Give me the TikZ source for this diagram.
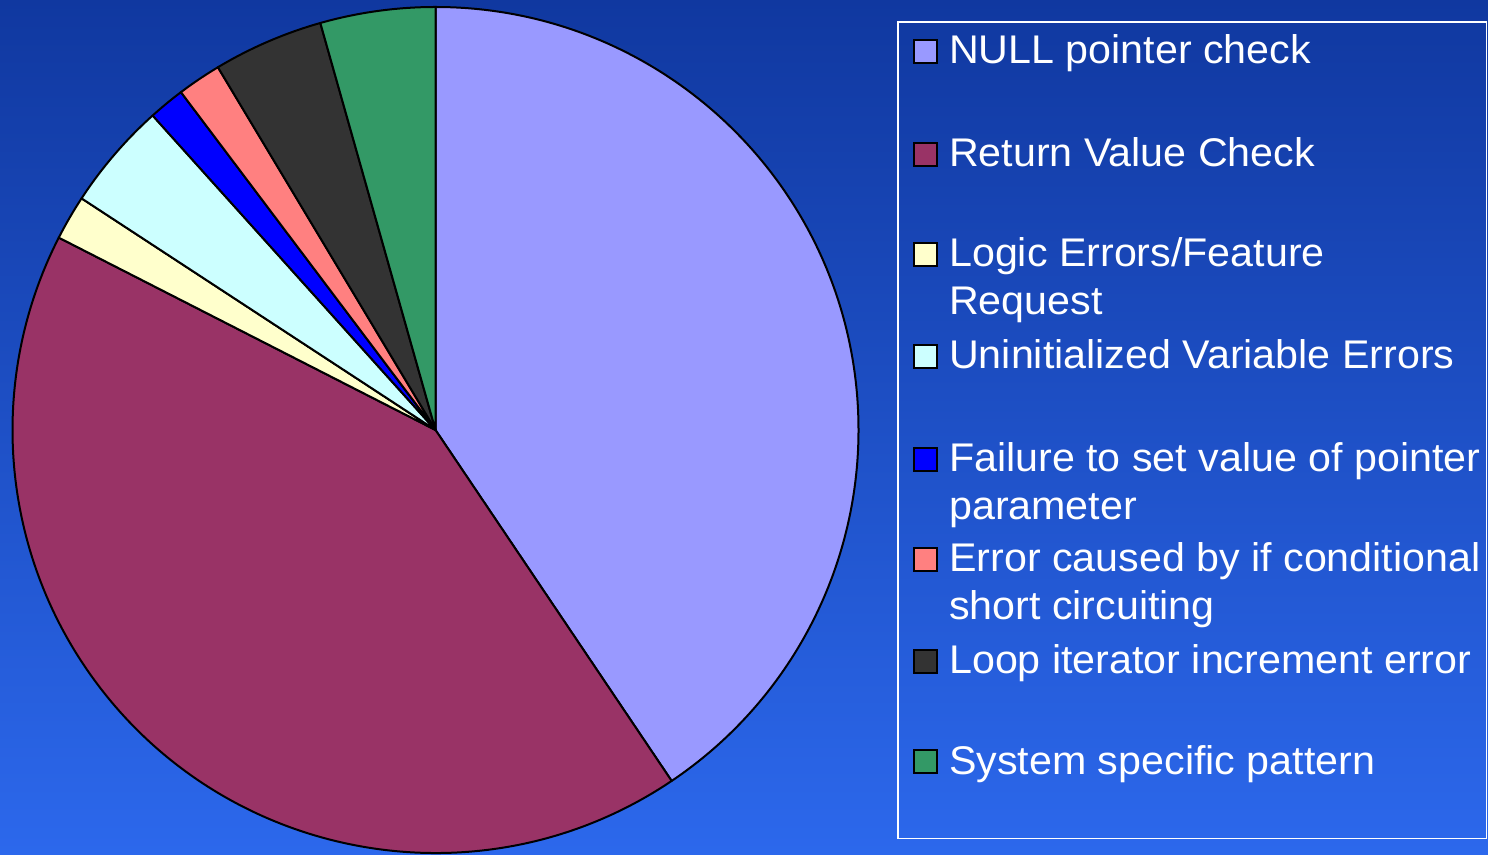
\documentclass[tikz,border=0pt]{standalone}
\usepackage{fontspec}
\setmainfont{Liberation Sans}
\newfontfamily\legendfont[FakeStretch=1.03]{Liberation Sans}

\definecolor{bgtop}{RGB}{16,56,160}
\definecolor{bgbottom}{RGB}{44,104,236}
\definecolor{cnull}{RGB}{153,153,255}
\definecolor{creturn}{RGB}{153,51,102}
\definecolor{clogic}{RGB}{255,255,204}
\definecolor{cuninit}{RGB}{204,255,255}
\definecolor{cfailure}{RGB}{0,0,255}
\definecolor{cerror}{RGB}{255,128,128}
\definecolor{cloop}{RGB}{51,51,51}
\definecolor{csystem}{RGB}{51,153,102}

\tikzset{
  slice/.style={draw=black, line width=2pt, line join=round},
  keybox/.style={draw=black, line width=2pt, minimum size=23pt, inner sep=0pt},
  keytext/.style={anchor=base west, inner sep=0pt, text=white, align=left,
    font=\legendfont\fontsize{40}{48.3}\selectfont},
  frame/.style={draw=white, line width=1.2pt}
}

% one wedge of the pie: fill colour, start angle, end angle (clockwise)
\newcommand\pieslice[4]{%
  \filldraw[slice, fill=#2] (pc) -- ([shift={(#3:\pierad)}]pc)
    arc[start angle=#3, end angle=#4, radius=\pierad] -- cycle
    node[coordinate] (#1) {};}
\newcommand\pierad{423pt}

\begin{document}
\begin{tikzpicture}[x=1pt,y=1pt]
  \useasboundingbox (0,0) rectangle (1488,854);
  \shade[top color=bgtop, bottom color=bgbottom] (0,0) rectangle (1488,854);

  % pie
  \coordinate (pc) at (435.5,424);
  \pieslice{snull}{cnull}{90}{-56.06}
  \pieslice{sreturn}{creturn}{-56.06}{-207.05}
  \pieslice{slogic}{clogic}{-207.05}{-213.2}
  \pieslice{suninit}{cuninit}{-213.2}{-228.03}
  \pieslice{sfailure}{cfailure}{-228.03}{-233.0}
  \pieslice{serror}{cerror}{-233.0}{-239.04}
  \pieslice{sloop}{cloop}{-239.04}{-254.2}
  \pieslice{ssystem}{csystem}{-254.2}{-270}

  % legend
  \draw[frame] (898,832) rectangle (1486.7,15.7);

  \node[keybox, fill=cnull]    (knull)    at (925.5,802.5) {};
  \node[keybox, fill=creturn]  (kreturn)  at (925.5,699.8) {};
  \node[keybox, fill=clogic]   (klogic)   at (925.5,599.8) {};
  \node[keybox, fill=cuninit]  (kuninit)  at (925.5,497.5) {};
  \node[keybox, fill=cfailure] (kfailure) at (925.5,394.8) {};
  \node[keybox, fill=cerror]   (kerror)   at (925.5,294.8) {};
  \node[keybox, fill=cloop]    (kloop)    at (925.5,192.5) {};
  \node[keybox, fill=csystem]  (ksystem)  at (925.5,92.5) {};

  % two-line entries are anchored on the baseline of their second line
  \node[keytext] (tnull)    at (949,790)   {NULL pointer check};
  \node[keytext] (treturn)  at (949,687.3) {Return Value Check};
  \node[keytext] (tlogic)   at (949,539)   {Logic Errors/Feature\\Request};
  \node[keytext] (tuninit)  at (949,485)   {Uninitialized Variable Errors};
  \node[keytext] (tfailure) at (949,334)   {Failure to set value of pointer\\parameter};
  \node[keytext] (terror)   at (949,234)   {Error caused by if conditional\\short circuiting};
  \node[keytext] (tloop)    at (949,180)   {Loop iterator increment error};
  \node[keytext] (tsystem)  at (949,80)    {System specific pattern};
\end{tikzpicture}
\end{document}
